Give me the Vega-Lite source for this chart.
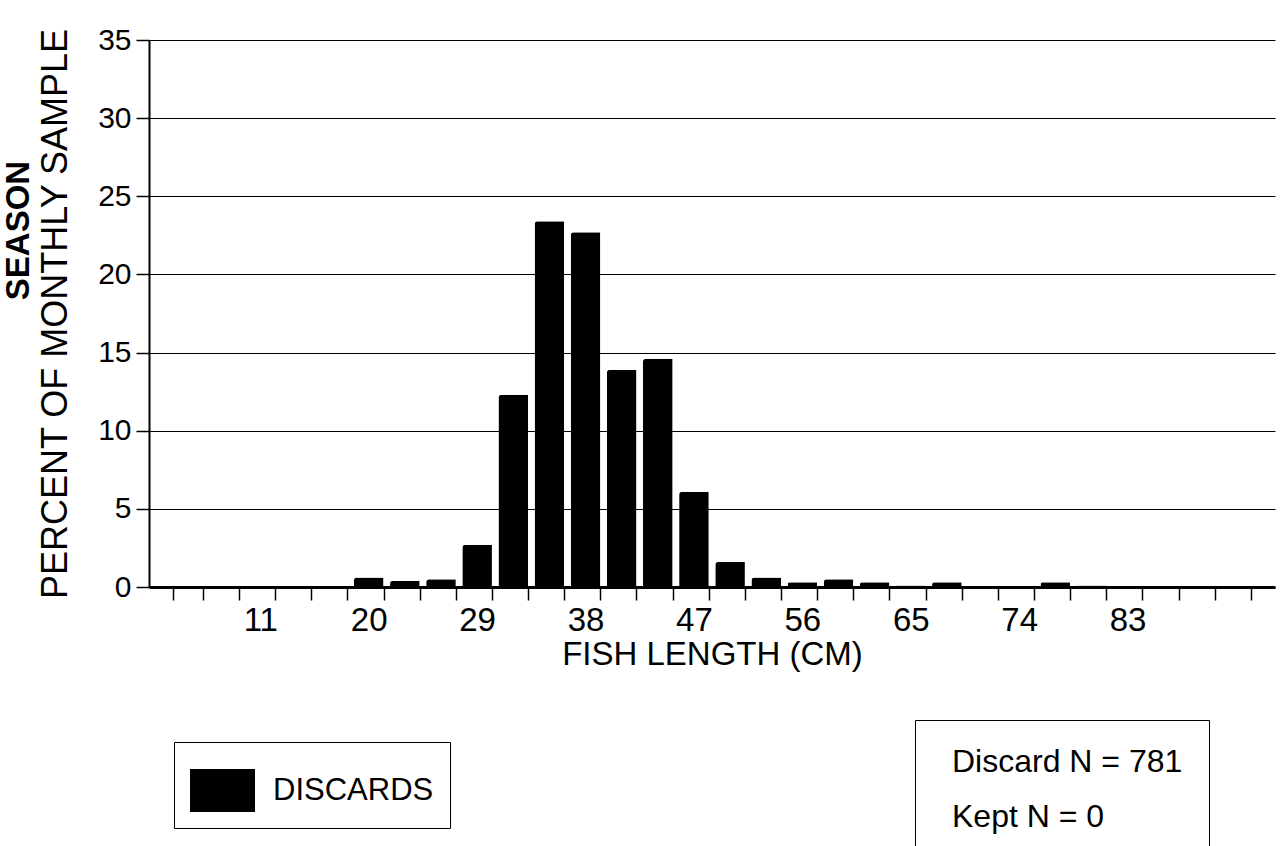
{
  "$schema": "https://vega.github.io/schema/vega-lite/v6.json",
  "width": 1126,
  "height": 547,
  "autosize": {"type": "none"},
  "padding": {"left": 149, "top": 40, "right": 7, "bottom": 259},
  "background": "white",
  "config": {"font": "Liberation Sans", "view": {"stroke": null}},
  "title": {
    "text": "SEASON",
    "orient": "left",
    "anchor": "middle",
    "dx": 83,
    "offset": 2,
    "fontSize": 33,
    "fontWeight": "bold",
    "color": "black"
  },
  "datasets": {
    "bars": [
      {"length_cm": 5, "percent": 0, "group": "DISCARDS"},
      {"length_cm": 8, "percent": 0, "group": "DISCARDS"},
      {"length_cm": 11, "percent": 0, "group": "DISCARDS"},
      {"length_cm": 14, "percent": 0, "group": "DISCARDS"},
      {"length_cm": 17, "percent": 0, "group": "DISCARDS"},
      {"length_cm": 20, "percent": 0.6, "group": "DISCARDS"},
      {"length_cm": 23, "percent": 0.4, "group": "DISCARDS"},
      {"length_cm": 26, "percent": 0.5, "group": "DISCARDS"},
      {"length_cm": 29, "percent": 2.7, "group": "DISCARDS"},
      {"length_cm": 32, "percent": 12.3, "group": "DISCARDS"},
      {"length_cm": 35, "percent": 23.4, "group": "DISCARDS"},
      {"length_cm": 38, "percent": 22.7, "group": "DISCARDS"},
      {"length_cm": 41, "percent": 13.9, "group": "DISCARDS"},
      {"length_cm": 44, "percent": 14.6, "group": "DISCARDS"},
      {"length_cm": 47, "percent": 6.1, "group": "DISCARDS"},
      {"length_cm": 50, "percent": 1.6, "group": "DISCARDS"},
      {"length_cm": 53, "percent": 0.6, "group": "DISCARDS"},
      {"length_cm": 56, "percent": 0.3, "group": "DISCARDS"},
      {"length_cm": 59, "percent": 0.5, "group": "DISCARDS"},
      {"length_cm": 62, "percent": 0.3, "group": "DISCARDS"},
      {"length_cm": 65, "percent": 0.1, "group": "DISCARDS"},
      {"length_cm": 68, "percent": 0.3, "group": "DISCARDS"},
      {"length_cm": 71, "percent": 0, "group": "DISCARDS"},
      {"length_cm": 74, "percent": 0, "group": "DISCARDS"},
      {"length_cm": 77, "percent": 0.3, "group": "DISCARDS"},
      {"length_cm": 80, "percent": 0.1, "group": "DISCARDS"},
      {"length_cm": 83, "percent": 0, "group": "DISCARDS"},
      {"length_cm": 86, "percent": 0, "group": "DISCARDS"},
      {"length_cm": 89, "percent": 0, "group": "DISCARDS"},
      {"length_cm": 92, "percent": 0, "group": "DISCARDS"}
    ],
    "info": [
      {"label": "Discard N = 781"},
      {"label": "Kept N = 0"}
    ]
  },
  "layer": [
    {
      "data": {"name": "bars"},
      "mark": {"type": "bar", "cornerRadiusTopLeft": 3},
      "encoding": {
        "x": {
          "field": "length_cm",
          "type": "ordinal",
          "scale": {"paddingInner": 0.18, "paddingOuter": 0.67},
          "axis": {
            "title": "FISH LENGTH (CM)",
            "labelAngle": 0,
            "labelExpr": "indexof([11,20,29,38,47,56,65,74,83], datum.value) >= 0 ? datum.label : ''",
            "labelOverlap": false,
            "tickBand": "extent",
            "domainColor": "black",
            "domainWidth": 3,
            "tickColor": "black",
            "tickSize": 13,
            "tickWidth": 1.5,
            "labelFontSize": 33,
            "labelColor": "black",
            "labelPadding": 4,
            "titleFontSize": 33,
            "titleFontWeight": "normal",
            "titleColor": "black",
            "titlePadding": 1
          }
        },
        "y": {
          "field": "percent",
          "type": "quantitative",
          "scale": {"domain": [0, 35], "nice": false},
          "axis": {
            "title": "PERCENT OF MONTHLY SAMPLE",
            "values": [0, 5, 10, 15, 20, 25, 30, 35],
            "grid": true,
            "gridColor": "black",
            "gridWidth": 1.2,
            "gridOpacity": 1,
            "domainColor": "black",
            "domainWidth": 2,
            "tickColor": "black",
            "tickSize": 13,
            "tickWidth": 1.5,
            "labelFontSize": 30,
            "labelColor": "black",
            "labelPadding": 5,
            "titleFontSize": 36,
            "titleFontWeight": "normal",
            "titleColor": "black",
            "titlePadding": 23
          }
        },
        "color": {
          "field": "group",
          "type": "nominal",
          "scale": {"range": ["black"]},
          "legend": {
            "title": null,
            "orient": "none",
            "legendX": 25,
            "legendY": 702,
            "symbolType": "M-1,-0.66H1V0.66H-1Z",
            "symbolSize": 4225,
            "symbolFillColor": "black",
            "symbolStrokeColor": "black",
            "symbolStrokeWidth": 0,
            "labelFontSize": 31,
            "labelColor": "black",
            "labelLimit": 400,
            "labelOffset": 18,
            "padding": 16,
            "strokeColor": "black",
            "fillColor": "white"
          }
        }
      }
    },
    {
      "data": {"name": "info"},
      "mark": {"type": "point", "opacity": 0},
      "encoding": {
        "shape": {
          "field": "label",
          "type": "nominal",
          "sort": null,
          "legend": {
            "title": null,
            "orient": "none",
            "legendX": 766,
            "legendY": 680,
            "symbolSize": 0,
            "symbolOpacity": 0,
            "labelOffset": -21,
            "labelFontSize": 32,
            "labelColor": "black",
            "labelLimit": 500,
            "rowPadding": 23,
            "padding": 26,
            "strokeColor": "black",
            "fillColor": "white"
          }
        }
      }
    }
  ]
}
